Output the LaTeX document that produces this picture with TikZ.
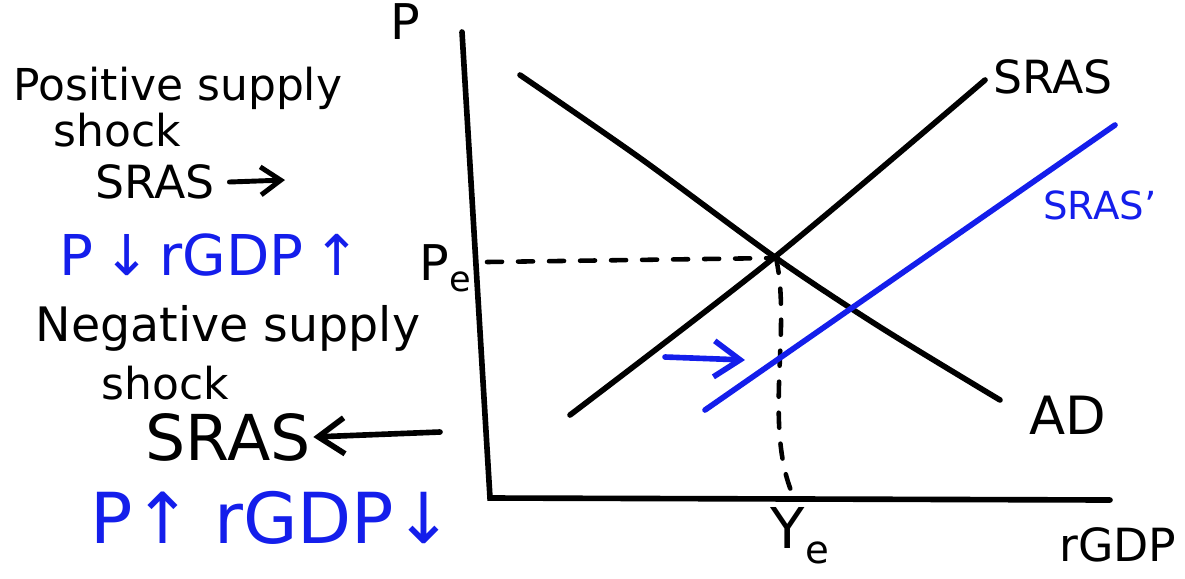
\documentclass[tikz,border=0pt]{standalone}
\usepackage{fontspec}
\setmainfont{DejaVu Sans}
\usetikzlibrary{arrows.meta,positioning,calc}
\definecolor{penblue}{RGB}{20,30,235}

\begin{document}
\begin{tikzpicture}[x=0.01cm,y=-0.01cm,line width=1.6pt,line cap=round,
    txt/.style={font=\fontsize{#1}{#1}\selectfont,inner sep=0pt},
    shiftarrow/.style={-{Straight Barb[length=2.6mm,width=3.6mm]}},
    guide/.style={line width=1.3pt,dash pattern=on 1.5mm off 1.6mm}]
    \useasboundingbox (0,0) rectangle (1185,578);
    % left hand notes
    \node[txt=12.5] (pos) at (178,88) {Positive supply};
    \node[txt=12.5] (pshock) at (117,130) {shock};
    \node[txt=13] (psras) at (155,182) {SRAS};
    \coordinate (pto) at (285,180);
    \draw[line width=1.4pt,-{Straight Barb[length=2mm,width=2.8mm]}] (psras.east) ++(12,0) -- (pto);
    \node[txt=16,penblue] (peff) at (210,255) {P\,↓\,rGDP\,↑};
    \node[txt=13.5] (neg) at (228,328) {Negative supply};
    \node[txt=12.5] (nshock) at (165,383) {shock};
    \node[txt=18] (nsras) at (228,437) {SRAS};
    \coordinate (nfrom) at (440,432);
    \draw[shiftarrow] (nfrom) -- (nsras.east);
    \node[txt=20,penblue] (neff) at (272,518) {P↑ rGDP↓};
    % axes
    \draw (462,32) -- (490,498) -- (1110,500);
    \node[txt=14] (plab) at (405,22) {P};
    \node[txt=13] (rgdp) at (1118,545) {rGDP};
    % equilibrium guides
    \coordinate (E) at (776,258);
    \node[txt=14] (pe) at (445,268) {P\raisebox{-.4ex}{\fontsize{10}{10}\selectfont e}};
    \node[txt=16] (ye) at (800,536) {Y\raisebox{-.5ex}{\fontsize{11}{11}\selectfont e}};
    \draw[guide] (487,262) -- (E);
    \draw[guide] (E) .. controls (792,330) and (762,430) .. (795,500);
    % curves
    \draw plot[smooth] coordinates {(520,75) (640,158) (776,258) (880,327) (1000,400)};
    \draw plot[smooth] coordinates {(570,415) (776,256) (985,80)};
    \draw[penblue] (705,410) -- (1115,125);
    \coordinate (bfrom) at (665,357);
    \coordinate (bto) at (745,360);
    \draw[penblue,shiftarrow] (bfrom) -- (bto);
    \node[txt=13] (sras) at (1053,77) {SRAS};
    \node[txt=11,penblue] (sras2) at (1100,205) {SRAS'};
    \node[txt=15] (ad) at (1068,415) {AD};
\end{tikzpicture}
\end{document}
